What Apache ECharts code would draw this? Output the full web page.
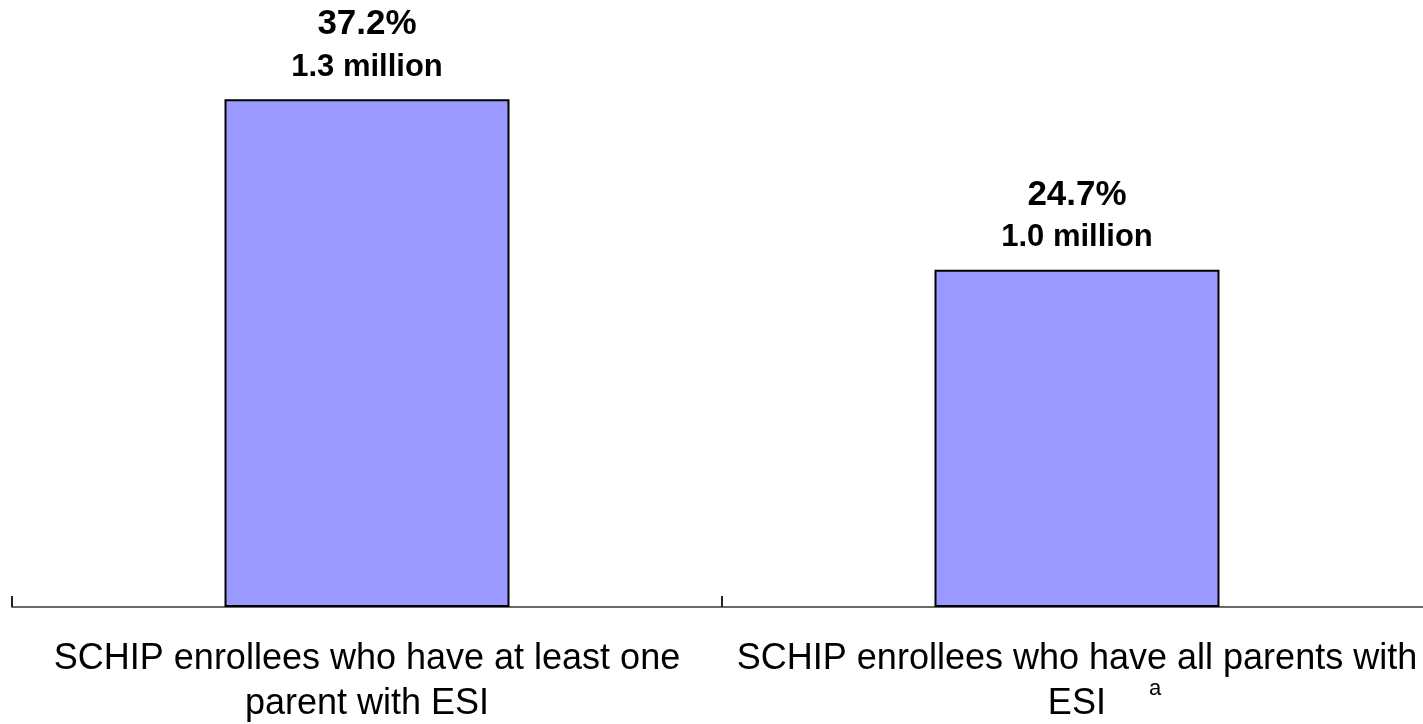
<!DOCTYPE html>
<html>
<head>
<meta charset="utf-8">
<script src="https://cdn.jsdelivr.net/npm/echarts@6/dist/echarts.min.js"></script>
<style>
	html, body { margin: 0; padding: 0; background: #fff; }
	#chart { width: 1423px; height: 724px; }
</style>
</head>
<body>
<div id="chart"></div>
<script>
var categories = ['SCHIP enrollees who have at least one\nparent with ESI', 'SCHIP enrollees who have all parents with\n{pad|}ESI{sup|a}'];
var percents = [37.2, 24.7];
var millions = ['1.3 million', '1.0 million'];

var myChart = echarts.init(document.getElementById('chart'));
var option = {
	animation: false,
	grid: {
		left: 12,
		right: -9,
		top: 61,
		bottom: 117,
		outerBoundsMode: 'none',
		containLabel: false
	},
	xAxis: {
		type: 'category',
		data: categories,
		axisLine: {
			lineStyle: { color: '#6a6a6a', width: 2 }
		},
		axisTick: {
			show: true,
			alignWithLabel: false,
			inside: true,
			length: 11,
			lineStyle: { color: '#222', width: 2 }
		},
		axisLabel: {
			interval: 0,
			margin: 30,
			fontFamily: 'Liberation Sans, Arial',
			fontSize: 36,
			lineHeight: 45,
			color: '#000',
			rich: {
				pad: { width: 55 },
				sup: { fontSize: 22, lineHeight: 10, padding: [0, 0, 31, 43], fontFamily: 'Liberation Sans, Arial', color: '#000' }
			}
		}
	},
	yAxis: {
		type: 'value',
		min: 0,
		max: 40,
		show: false
	},
	series: [{
		type: 'bar',
		barWidth: 285,
		data: percents,
		itemStyle: {
			color: '#9999ff',
			borderColor: '#000',
			borderWidth: 2
		},
		label: {
			show: true,
			position: 'top',
			distance: 12,
			formatter: function (params) {
				return '{p|' + params.value.toFixed(1) + '%}\n{m|' + millions[params.dataIndex] + '}';
			},
			rich: {
				p: { fontFamily: 'Liberation Sans, Arial', fontSize: 35, fontWeight: 'bold', color: '#000', lineHeight: 46 },
				m: { fontFamily: 'Liberation Sans, Arial', fontSize: 31, fontWeight: 'bold', color: '#000', lineHeight: 40 }
			}
		}
	}]
};
myChart.setOption(option);
</script>
</body>
</html>
